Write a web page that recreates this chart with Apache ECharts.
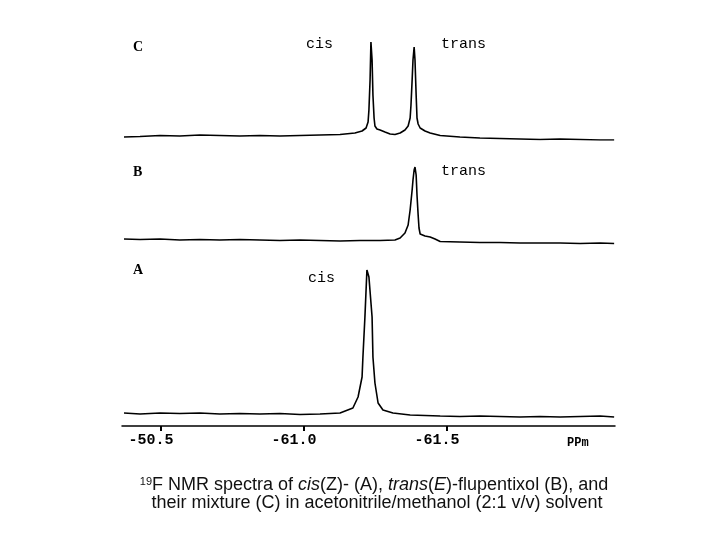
<!DOCTYPE html>
<html>
<head>
<meta charset="utf-8">
<script src="https://cdn.jsdelivr.net/npm/echarts@6/dist/echarts.min.js"></script>
<style>html,body{margin:0;padding:0;background:#fff}#c{width:720px;height:540px}</style>
</head>
<body>
<div id="c"></div>
<script>
// chemical shift (ppm) and intensity (arbitrary units)
var ppmC = [-60.371,-60.427,-60.497,-60.566,-60.636,-60.706,-60.776,-60.846,-60.916,-60.986,-61.056,-61.126,-61.178,-61.203,-61.217,-61.224,-61.227,-61.231,-61.234,-61.238,-61.241,-61.245,-61.248,-61.255,-61.266,-61.283,-61.301,-61.318,-61.336,-61.353,-61.364,-61.371,-61.374,-61.378,-61.381,-61.385,-61.388,-61.392,-61.395,-61.399,-61.406,-61.423,-61.441,-61.476,-61.545,-61.615,-61.685,-61.755,-61.825,-61.895,-61.965,-62.035,-62.084];
var intC = [3,3.5,4.5,4,5,4.5,4,4.5,4,4.5,5,5.5,7,9,12,18,30,60,98,80,45,22,14,11,10,8,6,5.5,7,10,14,22,35,60,80,93,80,45,22,16,12,9,7,4.5,3,2,1.5,1,0.5,1,0.5,0,0];

var ppmB = [-60.371,-60.427,-60.497,-60.566,-60.636,-60.706,-60.776,-60.846,-60.916,-60.986,-61.056,-61.126,-61.196,-61.266,-61.318,-61.336,-61.353,-61.364,-61.371,-61.378,-61.381,-61.385,-61.388,-61.392,-61.395,-61.399,-61.402,-61.406,-61.423,-61.441,-61.458,-61.476,-61.545,-61.615,-61.685,-61.755,-61.825,-61.895,-61.965,-62.035,-62.084];
var intB = [6,5.5,6,5,5.5,5,5.5,5,4.5,5,4.5,4,4.5,4.5,5,7,12,20,35,55,65,75,78,70,50,30,17,11,9,8,6,3.5,3,2.5,2.5,2,2,2,1.5,2,1.5];

var ppmA = [-60.371,-60.427,-60.497,-60.566,-60.636,-60.706,-60.776,-60.846,-60.916,-60.986,-61.056,-61.126,-61.171,-61.189,-61.203,-61.206,-61.213,-61.220,-61.224,-61.227,-61.238,-61.241,-61.248,-61.259,-61.276,-61.311,-61.371,-61.476,-61.545,-61.615,-61.685,-61.755,-61.825,-61.895,-61.965,-62.035,-62.084];
var intA = [13,12,13,12.5,13,12,12.5,12,12.5,11.5,12,13,18,29,49,69,109,156,155,149,109,69,43,23,16,13,11,10,9.5,10,9.5,9,9.5,9,9.5,10,9];

var tickValues = [-60.5, -61.0, -61.5];
var tickLabels = ['-50.5', '-61.0', '-61.5'];

function pairs(x, y) { return x.map(function (v, i) { return [v, y[i]]; }); }

var chart = echarts.init(document.getElementById('c'));
var xBase = { type: 'value', min: -62.087, max: -60.364, inverse: true, splitLine: { show: false } };
var hiddenX = function (gi) {
  return Object.assign({}, xBase, { gridIndex: gi, show: false });
};
var hiddenY = function (gi, max) {
  return { type: 'value', gridIndex: gi, min: 0, max: max, show: false, splitLine: { show: false } };
};
var lineStyle = { color: '#000', width: 1.6 };
var mono = '"Liberation Mono"';
var capRich = {
  sup: { fontSize: 11, fontFamily: 'Liberation Sans', verticalAlign: 'top', lineHeight: 18, fill: '#111' },
  i: { fontSize: 18, fontFamily: 'Liberation Sans', fontStyle: 'italic', lineHeight: 18, fill: '#111' }
};

chart.setOption({
  animation: false,
  backgroundColor: '#fff',
  grid: [
    { left: 122, right: 105, top: 40, height: 100 },
    { left: 122, right: 105, top: 145, height: 100 },
    { left: 122, right: 105, top: 266, height: 160 }
  ],
  xAxis: [
    hiddenX(0),
    hiddenX(1),
    Object.assign({}, xBase, {
      gridIndex: 2,
      axisLine: { show: true, onZero: false, lineStyle: { color: '#000', width: 1.5 } },
      axisTick: { show: true, customValues: tickValues, length: 5, inside: false, lineStyle: { color: '#000', width: 2 } },
      axisLabel: {
        customValues: tickValues,
        margin: 7,
        padding: [0, 20, 0, 0],
        color: '#000',
        fontFamily: 'Liberation Mono',
        fontWeight: 'bold',
        fontSize: 15,
        formatter: function (v) {
          var i = tickValues.findIndex(function (t) { return Math.abs(t - v) < 1e-6; });
          return i >= 0 ? tickLabels[i] : '';
        }
      }
    })
  ],
  yAxis: [hiddenY(0, 100), hiddenY(1, 100), hiddenY(2, 160)],
  series: [
    { type: 'line', xAxisIndex: 0, yAxisIndex: 0, data: pairs(ppmC, intC), showSymbol: false, lineStyle: lineStyle, silent: true },
    { type: 'line', xAxisIndex: 1, yAxisIndex: 1, data: pairs(ppmB, intB), showSymbol: false, lineStyle: lineStyle, silent: true },
    { type: 'line', xAxisIndex: 2, yAxisIndex: 2, data: pairs(ppmA, intA), showSymbol: false, lineStyle: lineStyle, silent: true }
  ],
  graphic: [
    { type: 'text', left: 133, top: 40, style: { text: 'C', font: 'bold 14px "Liberation Serif"', fill: '#000' } },
    { type: 'text', left: 133, top: 165, style: { text: 'B', font: 'bold 14px "Liberation Serif"', fill: '#000' } },
    { type: 'text', left: 133, top: 263, style: { text: 'A', font: 'bold 14px "Liberation Serif"', fill: '#000' } },
    { type: 'text', left: 306, top: 37, style: { text: 'cis', font: '15px ' + mono, fill: '#000' } },
    { type: 'text', left: 441, top: 37, style: { text: 'trans', font: '15px ' + mono, fill: '#000' } },
    { type: 'text', left: 441, top: 164, style: { text: 'trans', font: '15px ' + mono, fill: '#000' } },
    { type: 'text', left: 308, top: 271, style: { text: 'cis', font: '15px ' + mono, fill: '#000' } },
    { type: 'text', left: 567, top: 437, style: { text: 'PPm', font: 'bold 12px ' + mono, fill: '#000' } },
    {
      type: 'text', x: 374, y: 476,
      style: {
        text: '{sup|19}F NMR spectra of {i|cis}(Z)- (A), {i|trans}({i|E})-flupentixol (B), and',
        font: '18px "Liberation Sans"', fill: '#111', align: 'center', verticalAlign: 'top', lineHeight: 18, rich: capRich
      }
    },
    {
      type: 'text', x: 377, y: 494,
      style: {
        text: 'their mixture (C) in acetonitrile/methanol (2:1 v/v) solvent',
        font: '18px "Liberation Sans"', fill: '#111', align: 'center', verticalAlign: 'top', lineHeight: 18
      }
    }
  ]
});
</script>
</body>
</html>
